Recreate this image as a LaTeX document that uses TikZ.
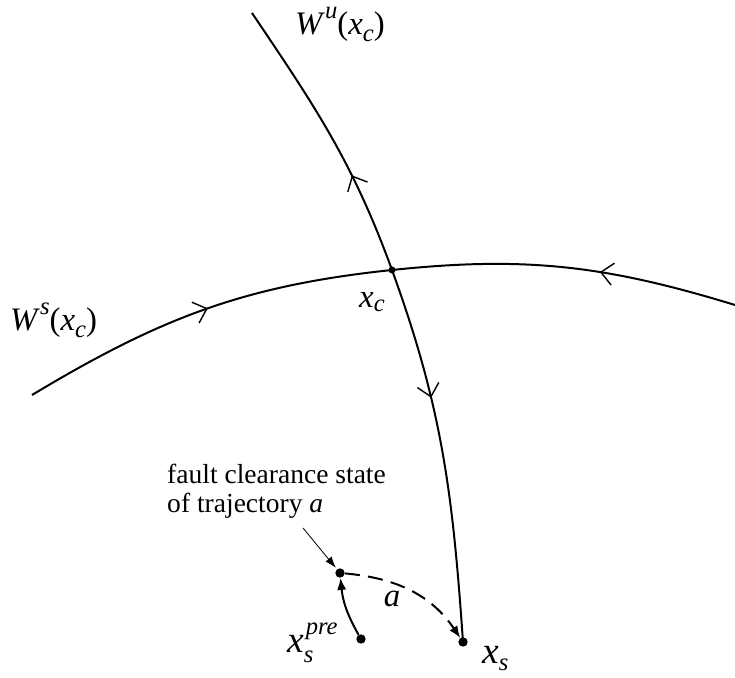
\documentclass[tikz,border=0pt]{standalone}
\usepackage{fontspec}
\setmainfont{Liberation Serif}
\usetikzlibrary{arrows.meta}
\usetikzlibrary{decorations.markings}
\usetikzlibrary{positioning}

\newcommand{\mfldfont}{\fontsize{28}{32}\selectfont}
\newcommand{\statefont}{\fontsize{32}{36}\selectfont}
\newcommand{\notefont}{\fontsize{23.5}{24.7}\selectfont}
\newcommand{\subfnt}{\fontsize{21}{21}\selectfont}
% italic index raised or lowered by #1
\newcommand{\idx}[2]{\raisebox{#1}{\subfnt\textit{#2}}}

\tikzset{
  manifold/.style={line width=1.7pt},
  flowtip/.tip={Straight Barb[length=3.6mm,width=6.6mm,line width=1.2pt]},
  statedot/.style={circle,fill,inner sep=0pt,minimum size=#1},
  statedot/.default=6pt,
  traj/.style={line width=1.7pt,-{Latex[length=3.6mm,width=2.8mm]}},
  pointer/.style={line width=0.7pt,-{Latex[length=3.4mm,width=2.4mm]}},
  lbl/.style={inner sep=0pt,anchor=base west},
}

\begin{document}
\begin{tikzpicture}[x=0.03cm,y=0.03cm]
\useasboundingbox (0,0) rectangle (735,677);

\coordinate (xc) at (392,407);
\coordinate (xs) at (463,35);
\coordinate (pre) at (361,38);
\coordinate (clear) at (340,104);
\coordinate (tail) at (303,149);

%unstable manifold
\draw[manifold,postaction={decorate},decoration={markings,
  mark=at position 0.283 with {\arrowreversed{flowtip}},
  mark=at position 0.634 with {\arrow{flowtip}}}]
  (252,664) to[out=-56,in=110] (xc) to[out=-70,in=94] (xs);
%stable manifold
\draw[manifold,postaction={decorate},decoration={markings,
  mark=at position 0.268 with {\arrow{flowtip}},
  mark=at position 0.81 with {\arrowreversed{flowtip}}}]
  (32,282) to[out=31,in=186] (xc) to[out=6,in=163] (735,372);

%states
\node[statedot=6pt] (xcdot) at (xc) {};
\node[statedot=8pt] (xsdot) at (xs) {};
\node[statedot=8pt] (predot) at (pre) {};
\node[statedot=8pt] (cleardot) at (clear) {};

%trajectory a
\draw[traj] (predot) to[bend left=12] (cleardot);
\draw[traj,dashed,dash pattern=on 4.5mm off 2.5mm] (cleardot) to[out=-5,in=124] (xsdot);
\draw[pointer,shorten >=2mm] (tail) -- (clear);

%labels
\node[font=\mfldfont,lbl] (Wu) at (295,642)
  {\textit{W}\idx{0.5em}{u}(\textit{x}\idx{-0.2em}{c})};
\node[font=\mfldfont,lbl] (Ws) at (10,346)
  {\textit{W}\idx{0.5em}{s}(\textit{x}\idx{-0.2em}{c})};
\node[font=\mfldfont,lbl] (xclabel) at (359,369) {\textit{x}\idx{-0.12em}{c}};
\node[font=\statefont,lbl] (xslabel) at (482,14) {\textit{x}\idx{-0.2em}{s}};
\node[font=\statefont,lbl] (prelabel) at (287,25)
  {\textit{x}\rlap{\kern0.05em\idx{0.47em}{pre}}\idx{-0.28em}{s}};
\node[font=\mfldfont,anchor=base,inner sep=0pt] (alabel) at (392,70) {\textit{a}};
\node[font=\notefont,align=left,anchor=north west,inner sep=0pt] (note) at (167,213)
  {fault clearance state\\of trajectory \textit{a}};

\end{tikzpicture}
\end{document}
